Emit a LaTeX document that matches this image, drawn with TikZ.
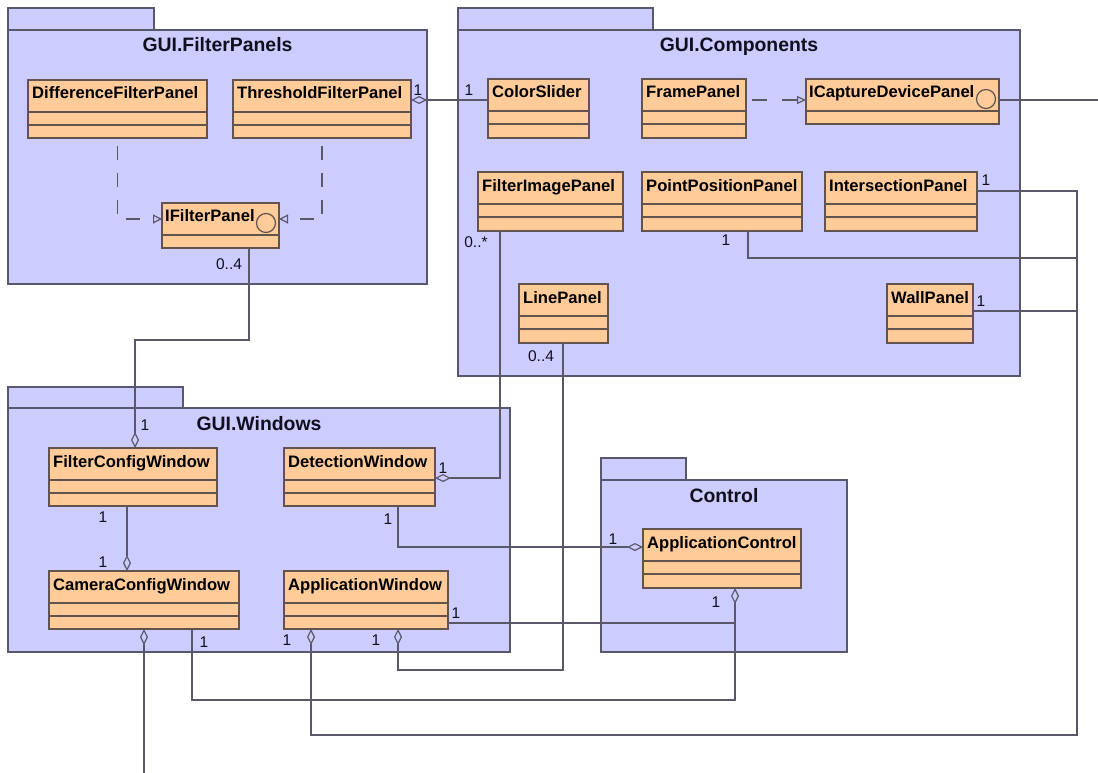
\documentclass[tikz,border=0pt]{standalone}
\usepackage{fontspec}
\setmainfont{Liberation Sans}
\usetikzlibrary{arrows.meta}

\definecolor{pkgfill}{RGB}{204,204,255}
\definecolor{pkgline}{RGB}{88,88,108}
\definecolor{clsfill}{RGB}{255,204,153}
\definecolor{clsline}{RGB}{98,84,76}
\definecolor{wire}{RGB}{88,88,104}
\definecolor{ink}{RGB}{15,15,30}

\tikzset{
  pkgshape/.style={draw=pkgline, fill=pkgfill, line width=1.4pt, inner sep=0pt, outer sep=0pt, anchor=north west},
  pkgtitle/.style={font=\fontsize{19.4}{22}\selectfont\bfseries, text=ink, anchor=base, inner sep=0pt},
  clsshape/.style={draw=clsline, fill=clsfill, line width=1.4pt, inner sep=0pt, outer sep=0pt, anchor=north west},
  clsrule/.style={draw=clsline, line width=1.4pt},
  clsname/.style={font=\fontsize{16.6}{19}\selectfont\bfseries, text=black, anchor=base west, inner sep=0pt},
  mult/.style={font=\fontsize{15.5}{17}\selectfont, text=ink, inner sep=0pt},
  conn/.style={draw=wire, line width=1.2pt},
  agg/.style={conn, {Diamond[open,length=16pt,width=8pt]}-},
  realize/.style={conn, dash pattern=on 14pt off 13pt, dash phase=19pt, -{Triangle[open,length=9pt,width=9pt]}},
  realizeshort/.style={conn, dash pattern=on 15pt off 15pt, dash phase=24pt, -{Triangle[open,length=9pt,width=8pt]}},
}

% package: name, x, y, tab width, tab height, body width, body height, title
\newcommand{\umlpkg}[8]{%
  \node[pkgshape, minimum width=#4pt, minimum height=#5pt] (#1-tab) at (#2,#3) {};
  \node[pkgshape, minimum width=#6pt, minimum height=#7pt] (#1) at (#1-tab.south west) {};
  \node[pkgtitle] (#1-title) at ([yshift=-22pt]#1.north) {#8};
}

% class with name, attribute and operation compartments: name, x, y, width, height, text
\newcommand{\umlclass}[6]{%
  \node[clsshape, minimum width=#4pt, minimum height=#5pt] (#1) at (#2,#3) {};
  \draw[clsrule] ([yshift=-32pt]#1.north west) -- ([yshift=-32pt]#1.north east);
  \draw[clsrule] ([yshift=-45pt]#1.north west) -- ([yshift=-45pt]#1.north east);
  \node[clsname] (#1-name) at ([xshift=4pt,yshift=-19pt]#1.north west) {#6};
}

% interface with lollipop circle: name, x, y, width, height, text
\newcommand{\umliface}[6]{%
  \node[clsshape, minimum width=#4pt, minimum height=#5pt] (#1) at (#2,#3) {};
  \draw[clsrule] ([yshift=-32pt]#1.north west) -- ([yshift=-32pt]#1.north east);
  \node[clsname] (#1-name) at ([xshift=3pt,yshift=-19pt]#1.north west) {#6};
  \draw[clsrule, line width=1.2pt] ([xshift=-13pt,yshift=-20pt]#1.north east) circle[radius=9.5pt];
}

\begin{document}
\begin{tikzpicture}[x=1pt,y=-1pt]
\fill[white] (0,0) rectangle (1098,773);
\useasboundingbox (0,0) rectangle (1098,773);

% packages
\umlpkg{fp}{8}{8}{146}{22}{419}{254}{GUI.FilterPanels}
\umlpkg{co}{458}{8}{195}{22}{562}{346}{GUI.Components}
\umlpkg{wi}{8}{387}{175}{21}{502}{244}{GUI.Windows}
\umlpkg{ct}{601}{458}{85}{22}{246}{172}{Control}

% GUI.FilterPanels
\umlclass{dfp}{28}{80}{179}{58}{DifferenceFilterPanel}
\umlclass{tfp}{233}{80}{178}{58}{ThresholdFilterPanel}
\umliface{ifp}{162}{203}{117}{45}{IFilterPanel}

% GUI.Components
\umlclass{cs}{488}{79}{101}{59}{ColorSlider}
\umlclass{frp}{642}{79}{104}{59}{FramePanel}
\umliface{icd}{806}{79}{193}{45}{ICaptureDevicePanel}
\umlclass{fip}{478}{172}{145}{59}{FilterImagePanel}
\umlclass{ppp}{642}{172}{160}{59}{PointPositionPanel}
\umlclass{isp}{825}{172}{152}{59}{IntersectionPanel}
\umlclass{lp}{519}{284}{89}{59}{LinePanel}
\umlclass{wp}{887}{284}{86}{59}{WallPanel}

% GUI.Windows
\umlclass{fcw}{49}{448}{168}{58}{FilterConfigWindow}
\umlclass{dw}{284}{448}{151}{58}{DetectionWindow}
\umlclass{ccw}{49}{571}{190}{58}{CameraConfigWindow}
\umlclass{aw}{284}{571}{164}{58}{ApplicationWindow}

% Control
\umlclass{ac}{643}{529}{158}{59}{ApplicationControl}

% attachment points on the boxes
\coordinate (tfpR) at ([yshift=-20pt]tfp.north east);
\coordinate (frpR) at ([yshift=-21pt]frp.north east);
\coordinate (icdR) at ([yshift=-21pt]icd.north east);
\coordinate (ifpL) at ([yshift=-16pt]ifp.north west);
\coordinate (ifpR) at ([yshift=-16pt]ifp.north east);
\coordinate (ifpB) at ([xshift=87pt]ifp.south west);
\coordinate (fcwT) at ([xshift=86pt]fcw.north west);
\coordinate (fcwB) at ([xshift=78pt]fcw.south west);
\coordinate (ccwT) at ([xshift=78pt]ccw.north west);
\coordinate (ccwD) at ([xshift=95pt]ccw.south west);
\coordinate (ccwB) at ([xshift=143pt]ccw.south west);
\coordinate (fipB) at ([xshift=22pt]fip.south west);
\coordinate (dwR) at ([yshift=-30pt]dw.north east);
\coordinate (dwB) at ([xshift=114pt]dw.south west);
\coordinate (pppB) at ([xshift=106pt]ppp.south west);
\coordinate (ispR) at ([yshift=-19pt]isp.north east);
\coordinate (wpR) at ([yshift=-27pt]wp.north east);
\coordinate (lpB) at ([xshift=44pt]lp.south west);
\coordinate (awD1) at ([xshift=27pt]aw.south west);
\coordinate (awD2) at ([xshift=114pt]aw.south west);
\coordinate (awR) at ([yshift=-52pt]aw.north east);
\coordinate (acL) at ([yshift=-18pt]ac.north west);
\coordinate (acB) at ([xshift=92pt]ac.south west);

% routing points and free ends
\coordinate (busBot) at (1077,735);
\coordinate (busP) at (1077,258);
\coordinate (busW) at (1077,311);
\coordinate (acJ) at (735,623);
\coordinate (endDown) at (144,773);
\coordinate (endRight) at (1098,100);

% realizations
\draw[realize] (dfp.south) |- (ifpL);
\draw[realize] (tfp.south) |- (ifpR);
\draw[realizeshort] (frpR) -- (frpR -| icd.west);

% associations and aggregations
\draw[agg] (tfpR) -- (tfpR -| cs.west);
\draw[conn] (icdR) -- (endRight);
\draw[agg] (fcwT) -- ++(0,-108) -| (ifpB);
\draw[agg] (dwR) -| (fipB);
\draw[agg] (awD1) |- (busBot) |- (ispR);
\draw[conn] (pppB) |- (busP);
\draw[conn] (wpR) -- (busW);
\draw[agg] (awD2) -- ++(0,41) -| (lpB);
\draw[agg] (acL) -| (dwB);
\draw[agg] (acB) -- ++(0,112) -| (ccwB);
\draw[conn] (awR) -- (acJ);
\draw[agg] (ccwT) -- (fcwB);
\draw[agg] (ccwD) -- (endDown);

% multiplicities
\node[mult] (m01) at (418,90) {1};
\node[mult] (m02) at (469,90) {1};
\node[mult] (m03) at (229,264) {0..4};
\node[mult] (m04) at (145,425) {1};
\node[mult] (m05) at (476,242) {0..*};
\node[mult] (m06) at (443,468) {1};
\node[mult] (m07) at (726,240) {1};
\node[mult] (m08) at (986,180) {1};
\node[mult] (m09) at (981,301) {1};
\node[mult] (m10) at (541,356) {0..4};
\node[mult] (m11) at (103,517) {1};
\node[mult] (m12) at (103,562) {1};
\node[mult] (m13) at (388,519) {1};
\node[mult] (m14) at (456,613) {1};
\node[mult] (m15) at (204,642) {1};
\node[mult] (m16) at (287,640) {1};
\node[mult] (m17) at (376,640) {1};
\node[mult] (m18) at (613,539) {1};
\node[mult] (m19) at (716,602) {1};
\end{tikzpicture}
\end{document}
